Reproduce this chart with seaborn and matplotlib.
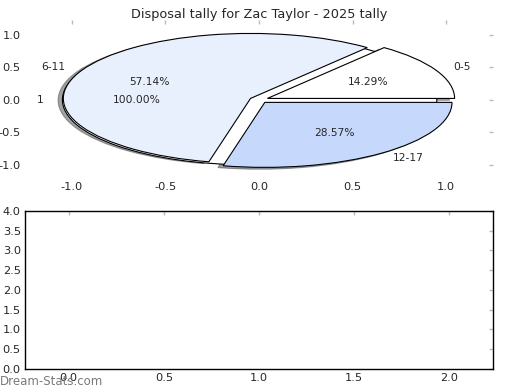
import matplotlib
matplotlib.use("Agg")
import matplotlib.pyplot as plt
import seaborn as sns

# pie data
groups = ['0-5', '6-11', '12-17']
counts = [1, 4, 2]
group_colors = ['#FFFFFF', '#E9F0FD', '#C6D9FD']
total_label = ['1']
total_count = [1]

title = "Disposal tally for Zac Taylor - 2025 tally"

sns.set_theme(style="white")
plt.rcParams['font.family'] = ['DejaVu Sans']
plt.rcParams['axes.unicode_minus'] = False

fig = plt.figure(figsize=(5.2, 3.9), dpi=100)
ax1 = fig.add_axes([0.048, 0.544, 0.9, 0.405])
ax2 = fig.add_axes([0.048, 0.054, 0.9, 0.405])

# background pie (single wedge)
ax1.pie(total_count, labels=total_label, autopct='%1.2f%%', explode=[0.05],
        colors=['#FFFFFF'], wedgeprops={'edgecolor': 'black', 'linewidth': 0.8},
        textprops={'fontsize': 7.7}, frame=True)
# exploded pie on top
ax1.pie(counts, labels=groups, autopct='%1.2f%%', explode=[0.05] * 3, shadow=True,
        colors=group_colors, wedgeprops={'edgecolor': 'black', 'linewidth': 0.8},
        textprops={'fontsize': 7.7}, frame=True)
ax1.set_aspect('auto')
ax1.set_xlim(-1.25, 1.25)
ax1.set_ylim(-1.2, 1.23)
ax1.set_xticks([-1.0, -0.5, 0.0, 0.5, 1.0])
ax1.set_yticks([-1.0, -0.5, 0.0, 0.5, 1.0])
for s in ax1.spines.values():
    s.set_visible(False)
ax1.set_title(title, fontsize=9.3, pad=1.5)

ax2.set_xlim(-0.23, 2.23)
ax2.set_ylim(0, 4)
ax2.set_xticks([0.0, 0.5, 1.0, 1.5, 2.0])
ax2.set_yticks([0, 0.5, 1.0, 1.5, 2.0, 2.5, 3.0, 3.5, 4.0])
for s in ax2.spines.values():
    s.set_visible(True)
    s.set_color('black')
    s.set_linewidth(1.0)

for ax in (ax1, ax2):
    ax.tick_params(direction='in', length=3, width=1, color='#BBBBBB',
                   labelsize=8.2, top=True, right=True, pad=3)

fig.text(0.0, 0.012, 'Dream-Stats.com', fontsize=8.5, color='#7A7A7A')

fig.savefig('out.png', dpi=100)
